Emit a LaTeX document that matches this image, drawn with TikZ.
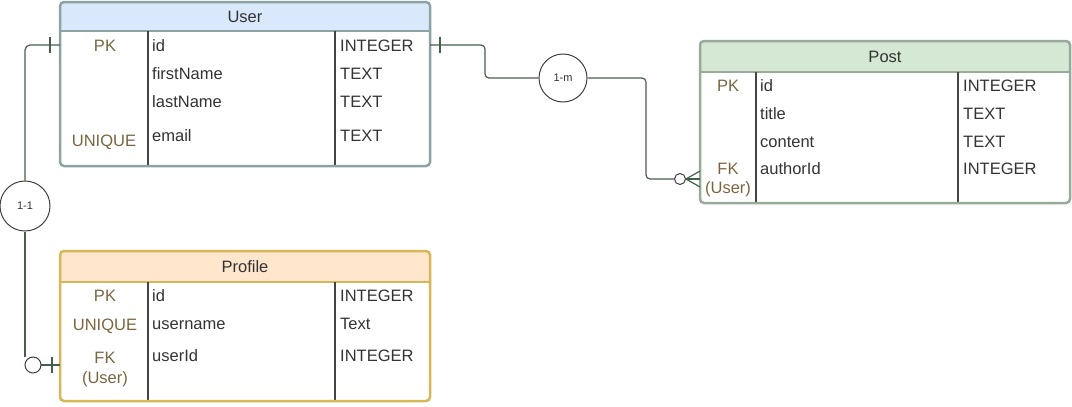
\documentclass[tikz,border=0pt]{standalone}
\usepackage{fontspec}
\setmainfont{Liberation Sans}
\usetikzlibrary{calc}
\definecolor{txt}{HTML}{333333}
\definecolor{keytxt}{HTML}{7A6540}
\definecolor{uborder}{HTML}{8DA3A3}
\definecolor{uhead}{HTML}{DAE8FC}
\definecolor{pborder}{HTML}{D6B656}
\definecolor{phead}{HTML}{FFE6CC}
\definecolor{gborder}{HTML}{9AAA9A}
\definecolor{ghead}{HTML}{D5E8D4}
\definecolor{conncol}{HTML}{45604A}
\definecolor{divcol}{HTML}{444444}
\tikzset{
  tblshape/.style={inner sep=0pt, outer sep=0pt, minimum width=370pt},
  tblborder/.style={line width=2.5pt, rounded corners=4pt},
  divline/.style={draw=divcol, line width=1.6pt},
  cell/.style={font=\fontsize{16.5}{18}\selectfont, text=txt, inner sep=0pt, text height=12pt, text depth=0pt},
  field/.style={cell, anchor=west},
  keyc/.style={cell, text=keytxt},
  tbltitle/.style={cell},
  conn/.style={draw=conncol, line width=1.2pt},
  relcirc/.style={circle, draw=black!75, line width=1pt, fill=white, inner sep=0pt,
    font=\fontsize{11}{12}\selectfont, text=txt},
  endbar/.style={draw=conncol, line width=1.2pt},
}
\begin{document}
\begin{tikzpicture}[x=1pt, y=-1pt]
\useasboundingbox (0,0) rectangle (1072,407);

% ---------- User ----------
\node[tblshape, minimum height=164pt] (user) at (245,84) {};
\fill[uhead, rounded corners=4pt] (60,2) rectangle (430,31);
\fill[uhead] (60,15) rectangle (430,31);
\draw[uborder, line width=2.5pt] (60,31) -- (430,31);
\draw[divline] (148,31) -- (148,166);
\draw[divline] (335,31) -- (335,166);
\draw[uborder, tblborder] (user.south west) rectangle (user.north east);
\node[tbltitle] (usert) at (245,16) {User};
\node[keyc] (upk) at (105,45) {PK};
\node[keyc] (uuq) at (104,140) {UNIQUE};
\node[field] (uf1) at (152,45) {id};
\node[field] (uf2) at (152,73) {firstName};
\node[field] (uf3) at (152,101) {lastName};
\node[field] (uf4) at (152,135) {email};
\node[field] (ut1) at (340,45) {INTEGER};
\node[field] (ut2) at (340,73) {TEXT};
\node[field] (ut3) at (340,101) {TEXT};
\node[field] (ut4) at (340,135) {TEXT};

% ---------- Profile ----------
\node[tblshape, minimum height=150pt] (profile) at (245,326) {};
\fill[phead, rounded corners=4pt] (60,251) rectangle (430,282);
\fill[phead] (60,265) rectangle (430,282);
\draw[pborder, line width=2.5pt] (60,282) -- (430,282);
\draw[divline] (148,282) -- (148,401);
\draw[divline] (335,282) -- (335,401);
\draw[pborder, tblborder] (profile.south west) rectangle (profile.north east);
\node[tbltitle] (profilet) at (245,266) {Profile};
\node[keyc] (ppk) at (105,295) {PK};
\node[keyc] (puq) at (105,324) {UNIQUE};
\node[keyc] (pfk) at (105,357) {FK};
\node[keyc] (pfku) at (105,377) {(User)};
\node[field] (pf1) at (152,295) {id};
\node[field] (pf2) at (152,323) {username};
\node[field] (pf3) at (152,355) {userId};
\node[field] (pt1) at (340,295) {INTEGER};
\node[field] (pt2) at (340,323) {Text};
\node[field] (pt3) at (340,355) {INTEGER};

% ---------- Post ----------
\node[tblshape, minimum height=162pt] (post) at (885,122) {};
\fill[ghead, rounded corners=4pt] (700,41) rectangle (1070,72);
\fill[ghead] (700,55) rectangle (1070,72);
\draw[gborder, line width=2.5pt] (700,72) -- (1070,72);
\draw[divline] (756,72) -- (756,203);
\draw[divline] (958,72) -- (958,203);
\draw[gborder, tblborder] (post.south west) rectangle (post.north east);
\node[tbltitle] (postt) at (885,56) {Post};
\node[keyc] (gpk) at (728,85) {PK};
\node[keyc] (gfk) at (728,168) {FK};
\node[keyc] (gfku) at (728,187) {(User)};
\node[field] (gf1) at (760,85) {id};
\node[field] (gf2) at (760,113) {title};
\node[field] (gf3) at (760,141) {content};
\node[field] (gf4) at (760,168) {authorId};
\node[field] (gt1) at (963,85) {INTEGER};
\node[field] (gt2) at (963,113) {TEXT};
\node[field] (gt3) at (963,141) {TEXT};
\node[field] (gt4) at (963,168) {INTEGER};

% ---------- relationship anchors ----------
\coordinate (uidw) at (user.west |- uf1);
\coordinate (uide) at (user.east |- uf1);
\coordinate (pfkw) at ($(profile.west |- pfk)+(0,8)$);
\coordinate (gfkw) at ($(post.west |- gf4)+(0,11)$);

% ---------- 1-1 ----------
\node[relcirc, minimum size=50pt] (c11) at (25,206) {1-1};
\draw[conn, rounded corners=5pt] (uidw) -- (25,45) -- (c11.north);
\draw[conn] (c11.south) -- (25,357);
\draw[endbar] (50,37) -- (50,53);
\draw[conn] (41,365) -- (pfkw);
\node[circle, draw=black!75, line width=1pt, fill=white, minimum size=16pt, inner sep=0pt] (o11) at (33,365) {};
\draw[endbar] (52,357) -- (52,373);

% ---------- 1-m ----------
\node[relcirc, minimum size=48pt] (c1m) at (563,78) {1-m};
\draw[conn, rounded corners=4pt] (uide) -- (485,45) -- (485,78) -- (c1m.west);
\draw[conn, rounded corners=4pt] (c1m.east) -- (646,78) -- (646,179) -- (674,179);
\draw[endbar] (440,37) -- (440,53);
\node[circle, draw=black!75, line width=1pt, fill=white, minimum size=11pt, inner sep=0pt] (o1m) at (680,179) {};
\draw[endbar] (700,171) -- (o1m.east) -- (700,187);
\draw[endbar] (o1m.east) -- (gfkw);
\end{tikzpicture}
\end{document}
